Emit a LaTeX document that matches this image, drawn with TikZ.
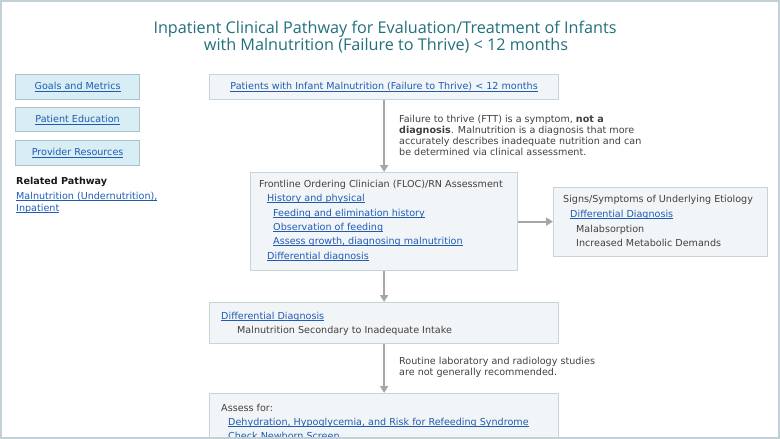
\documentclass[tikz,border=0pt]{standalone}
\usepackage{fontspec}
\setmainfont{DejaVu Sans}
\newfontfamily\titlefont{Open Sans}
\usetikzlibrary{arrows.meta}

\definecolor{frameline}{HTML}{C3D0D6}
\definecolor{titleteal}{HTML}{22707C}
\definecolor{linkblue}{HTML}{1F5BB5}
\definecolor{bodytext}{HTML}{404040}
\definecolor{boxfill}{HTML}{F2F5F7}
\definecolor{boxline}{HTML}{C6D4DA}
\definecolor{tabfill}{HTML}{D8EEF4}
\definecolor{tabline}{HTML}{A8C3CB}
\definecolor{flowline}{HTML}{A6A6A6}

\newcommand{\lnk}[1]{{\color{linkblue}\setbox0\hbox{#1}\rlap{\rule[-1.8pt]{\wd0}{0.6pt}}\box0}}

\begin{document}
\begin{tikzpicture}[x=1pt,y=-1pt,
    box/.style={draw=boxline,fill=boxfill,line width=1.2pt,inner sep=0pt,anchor=north west,
      font=\fontsize{9.6}{11}\selectfont},
    tab/.style={draw=tabline,fill=tabfill,line width=1.2pt,inner sep=0pt,anchor=north west,
      minimum width=124pt,minimum height=25pt,font=\fontsize{9.6}{11}\selectfont},
    txt/.style={anchor=base west,inner sep=0pt,text=bodytext,font=\fontsize{9.6}{11}\selectfont},
    flow/.style={draw=flowline,line width=2pt,-{Triangle[width=8pt,length=7pt]}}]
  \useasboundingbox (0,0) rectangle (780,439);
  \clip (0,0) rectangle (780,439);

  % title
  \node[anchor=base,inner sep=0pt,text=titleteal,font=\titlefont\fontsize{16.2}{18}\selectfont]
    (title1) at (385,34) {Inpatient Clinical Pathway for Evaluation/Treatment of Infants};
  \node[anchor=base,inner sep=0pt,text=titleteal,font=\titlefont\fontsize{16.2}{18}\selectfont]
    (title2) at (386,50) {with Malnutrition (Failure to Thrive) < 12 months};

  % side menu
  \node[tab] (goals) at (15,74) {\lnk{Goals and Metrics}};
  \node[tab,minimum height=24pt] (educ) at (15,107) {\lnk{Patient Education}};
  \node[tab] (provider) at (15,140) {\lnk{Provider Resources}};
  \node[txt,text=black!90,font=\fontsize{9.6}{11}\selectfont\bfseries] (related) at (16,184) {Related Pathway};
  \node[txt] (rel1) at (16,199) {\lnk{Malnutrition (Undernutrition),}};
  \node[txt] (rel2) at (16,211) {\lnk{Inpatient}};

  % boxes
  \node[box,minimum width=349pt,minimum height=25pt] (patients) at (209,74)
    {\lnk{Patients with Infant Malnutrition (Failure to Thrive) < 12 months}};
  \node[box,minimum width=267pt,minimum height=98pt] (floc) at (250,172) {};
  \node[box,minimum width=214pt,minimum height=69pt] (signs) at (553,187) {};
  \node[box,minimum width=349pt,minimum height=41pt] (ddx) at (209,302) {};
  \node[box,minimum width=349pt,minimum height=60pt] (assess) at (209,393) {};

  % arrows
  \draw[flow] (patients.south) -- (floc.north);
  \draw[flow] (floc.east) -- (floc.east -| signs.west);
  \draw[flow] (floc.south) -- (ddx.north);
  \draw[flow] (ddx.south) -- (assess.north);

  % notes
  \node[txt] (ftt1) at (399,122) {Failure to thrive (FTT) is a symptom, \textbf{not a}};
  \node[txt] (ftt2) at (399,133) {\textbf{diagnosis}. Malnutrition is a diagnosis that more};
  \node[txt] (ftt3) at (399,144) {accurately describes inadequate nutrition and can};
  \node[txt] (ftt4) at (399,155) {be determined via clinical assessment.};
  \node[txt] (lab1) at (399,364) {Routine laboratory and radiology studies};
  \node[txt] (lab2) at (399,375) {are not generally recommended.};

  % box texts
  \node[txt] (floc1) at (259,187) {Frontline Ordering Clinician (FLOC)/RN Assessment};
  \node[txt] (floc2) at (267,201) {\lnk{History and physical}};
  \node[txt] (floc3) at (273,216) {\lnk{Feeding and elimination history}};
  \node[txt] (floc4) at (273,230) {\lnk{Observation of feeding}};
  \node[txt] (floc5) at (273,244) {\lnk{Assess growth, diagnosing malnutrition}};
  \node[txt] (floc6) at (267,259) {\lnk{Differential diagnosis}};

  \node[txt] (signs1) at (563,202) {Signs/Symptoms of Underlying Etiology};
  \node[txt] (signs2) at (570,217) {\lnk{Differential Diagnosis}};
  \node[txt] (signs3) at (576,232) {Malabsorption};
  \node[txt] (signs4) at (576,246) {Increased Metabolic Demands};

  \node[txt] (ddx1) at (221,319) {\lnk{Differential Diagnosis}};
  \node[txt] (ddx2) at (237,333) {Malnutrition Secondary to Inadequate Intake};

  \node[txt] (assess1) at (221,411) {Assess for:};
  \node[txt] (assess2) at (228,425) {\lnk{Dehydration, Hypoglycemia, and Risk for Refeeding Syndrome}};
  \node[txt] (assess3) at (228,439) {\lnk{Check Newborn Screen}};

  % frame
  \draw[frameline,line width=2pt] (1,1) rectangle (779,438);
\end{tikzpicture}
\end{document}
